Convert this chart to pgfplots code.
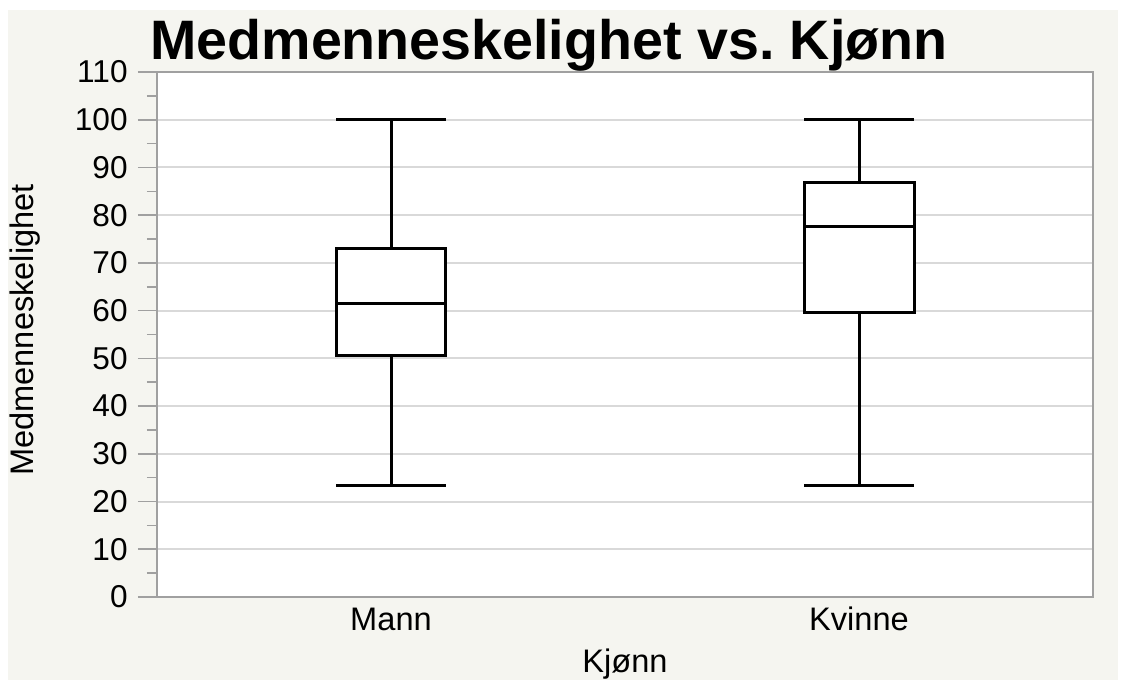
\documentclass[border=0pt]{standalone}
\usepackage{pgfplots}
\pgfplotsset{compat=1.18}
\usepgfplotslibrary{statistics}
\usepackage{fontspec}
\setmainfont{Liberation Sans}
\definecolor{bgbeige}{RGB}{245,245,240}
\definecolor{axgray}{RGB}{160,160,160}
\definecolor{gridgray}{RGB}{217,217,217}
\frenchspacing
\begin{document}
\begin{tikzpicture}
\useasboundingbox (0,0) rectangle (561.5pt,341pt);
\fill[white] (0,0) rectangle (561.5pt,341pt);
\fill[bgbeige] (4pt,1pt) rectangle (559pt,336pt);
\begin{axis}[
  at={(78.5pt,42.5pt)}, anchor=south west,
  scale only axis, width=468pt, height=262.5pt,
  xmin=0.5, xmax=2.5, ymin=0, ymax=110,
  axis background/.style={fill=white},
  axis line style={draw=axgray, line width=1.3pt},
  xtick={1,2}, xticklabels={Mann,Kvinne},
  ytick={0,10,...,110}, minor ytick={5,15,...,105},
  ytick pos=left,
  tick align=outside,
  major tick length=9.5pt, minor tick length=5pt,
  xtick style={draw=none},
  ytick style={draw=axgray, line width=0.8pt},
  minor tick style={draw=axgray, line width=0.8pt},
  ymajorgrids, major grid style={draw=gridgray, line width=1pt},
  /pgf/number format/assume math mode=true,
  yticklabel style={font=\fontsize{15.8}{18}\selectfont, anchor=east, inner sep=0pt, xshift=-5pt},
  xticklabel style={font=\fontsize{16.3}{19}\selectfont, anchor=base, inner sep=0pt, yshift=-7pt},
  boxplot/draw direction=y,
  clip=false,
]
\addplot[draw=black, line width=1.5pt, fill=white, solid,
  boxplot prepared={median=61.5, upper quartile=73.1, lower quartile=50.5,
    upper whisker=100, lower whisker=23.4, draw position=1,
    box extend=0.235, whisker extend=0.235}] coordinates {};
\addplot[draw=black, line width=1.5pt, fill=white, solid,
  boxplot prepared={median=77.6, upper quartile=86.8, lower quartile=59.6,
    upper whisker=100, lower whisker=23.4, draw position=2,
    box extend=0.235, whisker extend=0.235}] coordinates {};
\end{axis}
\node[anchor=base west, inner sep=0pt, font=\bfseries\fontsize{27.8}{33}\selectfont] at (75pt,311.5pt) {Medmenneskelighet vs. Kjønn};
\node[rotate=90, anchor=base, inner sep=0pt, font=\fontsize{16.3}{19}\selectfont] at (16.5pt,176pt) {Medmenneskelighet};
\node[anchor=base, inner sep=0pt, font=\fontsize{16.3}{19}\selectfont] at (312.5pt,5pt) {Kjønn};
\end{tikzpicture}
\end{document}
